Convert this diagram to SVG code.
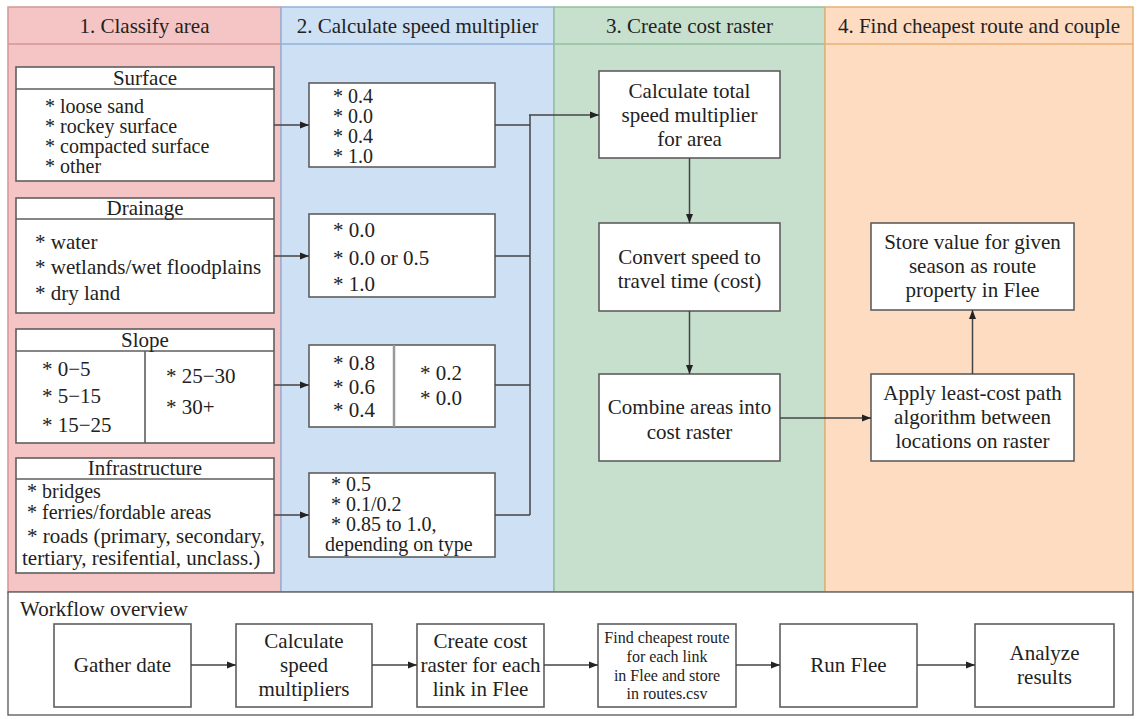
<svg xmlns="http://www.w3.org/2000/svg" width="1137" height="719" viewBox="0 0 1137 719" font-family="'Liberation Serif', 'Times New Roman', 'DejaVu Serif', serif">
<style>
text{font-family:'Liberation Serif','Times New Roman','DejaVu Serif',serif;font-size:21px;fill:#222}
.c{text-anchor:middle}
.s{font-size:16px}
.t{font-size:20px}
.box{fill:#fff;stroke:#5e5e5e;stroke-width:1.6}
.div{stroke:#5e5e5e;stroke-width:1.6;fill:none}
.ln{stroke:#444;stroke-width:1.5;fill:none}
.arr{marker-end:url(#ah)}
</style>
<defs>
<marker id="ah" markerUnits="userSpaceOnUse" markerWidth="9" markerHeight="8" refX="9" refY="4" orient="auto">
<path d="M0,0.5 L9,4 L0,7.5 z" fill="#222"/>
</marker>
</defs>
<rect width="1137" height="719" fill="#fff"/>
<g id="lanes">
<g id="lane1">
<rect x="8" y="7" width="273" height="585" fill="#f5c5c5" stroke="#d49595" stroke-width="1.5"/>
<line x1="8" y1="44" x2="281" y2="44" stroke="#d49595" stroke-width="1.5"/>
<text class="c" x="144.5" y="33">1. Classify area</text>
</g>
<g id="lane2">
<rect x="281" y="7" width="273" height="585" fill="#cde0f4" stroke="#92b2d8" stroke-width="1.5"/>
<line x1="281" y1="44" x2="554" y2="44" stroke="#92b2d8" stroke-width="1.5"/>
<text class="c" x="417.5" y="33">2. Calculate speed multiplier</text>
</g>
<g id="lane3">
<rect x="554" y="7" width="271" height="585" fill="#c7e0cd" stroke="#92c09e" stroke-width="1.5"/>
<line x1="554" y1="44" x2="825" y2="44" stroke="#92c09e" stroke-width="1.5"/>
<text class="c" x="689.5" y="33">3. Create cost raster</text>
</g>
<g id="lane4">
<rect x="825" y="7" width="308" height="585" fill="#fedcc2" stroke="#e6b074" stroke-width="1.5"/>
<line x1="825" y1="44" x2="1133" y2="44" stroke="#e6b074" stroke-width="1.5"/>
<text class="c" x="979" y="33">4. Find cheapest route and couple</text>
</g>
</g>
<g id="surface">
<rect class="box" x="16" y="67" width="258" height="114"/>
<line class="div" x1="16" y1="89" x2="274" y2="89"/>
<text class="c" x="145" y="85">Surface</text>
<text class="t" x="45" y="113">* loose sand</text>
<text class="t" x="45" y="133">* rockey surface</text>
<text class="t" x="45" y="153">* compacted surface</text>
<text class="t" x="45" y="173">* other</text>
</g>
<g id="drainage">
<rect class="box" x="16" y="198" width="258" height="115"/>
<line class="div" x1="16" y1="219" x2="274" y2="219"/>
<text class="c" x="145" y="215">Drainage</text>
<text x="35" y="249">* water</text>
<text x="35" y="274">* wetlands/wet floodplains</text>
<text x="35" y="300">* dry land</text>
</g>
<g id="slope">
<rect class="box" x="16" y="329" width="258" height="114"/>
<line class="div" x1="16" y1="351" x2="274" y2="351"/>
<line class="div" x1="145" y1="351" x2="145" y2="443"/>
<text class="c" x="145" y="347">Slope</text>
<text x="42" y="376">* 0−5</text>
<text x="42" y="403">* 5−15</text>
<text x="42" y="432">* 15−25</text>
<text x="166" y="383">* 25−30</text>
<text x="166" y="414">* 30+</text>
</g>
<g id="infrastructure">
<rect class="box" x="16" y="458" width="258" height="115"/>
<line class="div" x1="16" y1="479" x2="274" y2="479"/>
<text class="c" x="145" y="475">Infrastructure</text>
<text class="t" x="27" y="498">* bridges</text>
<text class="t" x="27" y="519">* ferries/fordable areas</text>
<text x="27" y="543">* roads (primary, secondary,</text>
<text x="22" y="565">tertiary, resifential, unclass.)</text>
</g>
<g id="mult-surface">
<rect class="box" x="309" y="83" width="186" height="84"/>
<text class="t" x="333" y="103">* 0.4</text>
<text class="t" x="333" y="123">* 0.0</text>
<text class="t" x="333" y="143">* 0.4</text>
<text class="t" x="333" y="163">* 1.0</text>
</g>
<g id="mult-drainage">
<rect class="box" x="309" y="214" width="186" height="83"/>
<text x="333" y="237">* 0.0</text>
<text x="333" y="265">* 0.0 or 0.5</text>
<text x="333" y="291">* 1.0</text>
</g>
<g id="mult-slope">
<rect class="box" x="309" y="345" width="186" height="82"/>
<line x1="394" y1="345" x2="394" y2="427" stroke="#999" stroke-width="2.5"/>
<text x="333" y="370">* 0.8</text>
<text x="333" y="394">* 0.6</text>
<text x="333" y="417">* 0.4</text>
<text x="420" y="380">* 0.2</text>
<text x="420" y="405">* 0.0</text>
</g>
<g id="mult-infrastructure">
<rect class="box" x="309" y="473" width="186" height="84"/>
<text class="t" x="331" y="491">* 0.5</text>
<text class="t" x="331" y="511">* 0.1/0.2</text>
<text class="t" x="331" y="531">* 0.85 to 1.0,</text>
<text class="t" x="325" y="551">depending on type</text>
</g>
<g id="total-mult">
<rect class="box" x="599" y="71" width="181" height="87"/>
<text class="c" x="689.5" y="98">Calculate total</text>
<text class="c" x="689.5" y="122">speed multiplier</text>
<text class="c" x="689.5" y="146">for area</text>
</g>
<g id="convert">
<rect class="box" x="599" y="223" width="181" height="88"/>
<text class="c" x="689.5" y="264">Convert speed to</text>
<text class="c" x="689.5" y="288">travel time (cost)</text>
</g>
<g id="combine">
<rect class="box" x="599" y="374" width="181" height="87"/>
<text class="c" x="689.5" y="414">Combine areas into</text>
<text class="c" x="689.5" y="439">cost raster</text>
</g>
<g id="store">
<rect class="box" x="871" y="223" width="203" height="87"/>
<text class="c" x="972.5" y="249">Store value for given</text>
<text class="c" x="972.5" y="273">season as route</text>
<text class="c" x="972.5" y="297">property in Flee</text>
</g>
<g id="apply">
<rect class="box" x="871" y="374" width="203" height="87"/>
<text class="c" x="972.5" y="400">Apply least-cost path</text>
<text class="c" x="972.5" y="424">algorithm between</text>
<text class="c" x="972.5" y="448">locations on raster</text>
</g>
<g id="overview">
<rect x="8" y="592" width="1125" height="123" fill="#fff" stroke="#555" stroke-width="1.3"/>
<text x="20" y="616">Workflow overview</text>
</g>
<g id="wf-gather">
<rect class="box" x="54" y="624" width="137" height="83"/>
<text class="c" x="122.5" y="672">Gather date</text>
</g>
<g id="wf-calc">
<rect class="box" x="236" y="624" width="136" height="83"/>
<text class="c" x="304" y="648">Calculate</text>
<text class="c" x="304" y="672">speed</text>
<text class="c" x="304" y="696">multipliers</text>
</g>
<g id="wf-create">
<rect class="box" x="417" y="624" width="127" height="83"/>
<text class="c" x="480.5" y="648">Create cost</text>
<text class="c" x="480.5" y="672">raster for each</text>
<text class="c" x="480.5" y="696">link in Flee</text>
</g>
<g id="wf-find">
<rect class="box" x="598" y="624" width="138" height="83"/>
<text class="c s" x="667" y="643">Find cheapest route</text>
<text class="c s" x="667" y="662">for each link</text>
<text class="c s" x="667" y="681">in Flee and store</text>
<text class="c s" x="667" y="699">in routes.csv</text>
</g>
<g id="wf-run">
<rect class="box" x="780" y="624" width="137" height="83"/>
<text class="c" x="848.5" y="672">Run Flee</text>
</g>
<g id="wf-analyze">
<rect class="box" x="975" y="624" width="139" height="83"/>
<text class="c" x="1044.5" y="660">Analyze</text>
<text class="c" x="1044.5" y="684">results</text>
</g>
<g id="connectors">
<line class="ln arr" x1="274" y1="125" x2="309" y2="125"/>
<line class="ln arr" x1="274" y1="256" x2="309" y2="256"/>
<line class="ln arr" x1="274" y1="385" x2="309" y2="385"/>
<line class="ln arr" x1="274" y1="515" x2="309" y2="515"/>
<line class="ln" x1="495" y1="125" x2="530" y2="125"/>
<line class="ln" x1="495" y1="256" x2="530" y2="256"/>
<line class="ln" x1="495" y1="385" x2="530" y2="385"/>
<line class="ln" x1="495" y1="515" x2="530" y2="515"/>
<line class="ln" x1="530" y1="115" x2="530" y2="515" stroke-width="2"/>
<line class="ln arr" x1="529" y1="115" x2="599" y2="115"/>
<line class="ln arr" x1="689.5" y1="158" x2="689.5" y2="223"/>
<line class="ln arr" x1="689.5" y1="311" x2="689.5" y2="374"/>
<line class="ln arr" x1="780" y1="418" x2="871" y2="418"/>
<line class="ln arr" x1="972.5" y1="374" x2="972.5" y2="310"/>
<line class="ln arr" x1="191" y1="665" x2="236" y2="665"/>
<line class="ln arr" x1="372" y1="665" x2="417" y2="665"/>
<line class="ln arr" x1="544" y1="665" x2="598" y2="665"/>
<line class="ln arr" x1="736" y1="665" x2="780" y2="665"/>
<line class="ln arr" x1="917" y1="665" x2="975" y2="665"/>
</g>
</svg>
